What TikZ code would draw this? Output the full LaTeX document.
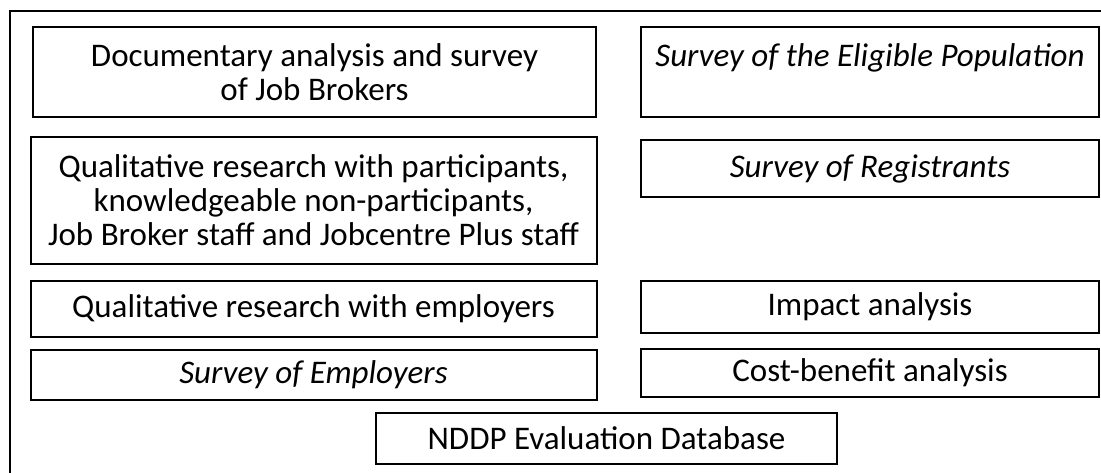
\documentclass[tikz,border=0pt]{standalone}
\usepackage{fontspec}
\setmainfont{Carlito}
\usetikzlibrary{positioning}

\begin{document}
\begin{tikzpicture}[x=0.5pt, y=-0.5pt,
            box/.style={draw, line width=1pt, rectangle, inner sep=0pt, align=center, font=\fontsize{16.5}{17}\selectfont},
            leftbox/.style={box, minimum width=283pt},
            rightbox/.style={box, minimum width=229pt}]

            \useasboundingbox (0,0) rectangle (1101,472);
            \clip (0,0) rectangle (1101,472);

            % outer frame, cut off at right and bottom
            \draw[line width=1pt] (1120,11) -- (10,11) -- (10,490);

            % left column
            \node[leftbox, minimum width=281.5pt, minimum height=45pt] (docs) at (314.5,72) {Documentary analysis and survey\\of Job Brokers};
            \node[leftbox, minimum height=63.5pt] (qualpart) at (313.5,200.5) {Qualitative research with participants,\\knowledgeable non-participants,\\Job Broker staff and Jobcentre Plus staff};
            \node[leftbox, minimum height=28pt] (qualemp) at (313.5,309) {Qualitative research with employers};
            \node[leftbox, minimum height=25pt] (survemp) at (313.5,375) {\itshape Survey of Employers};

            % right column
            \node[rightbox, minimum height=45pt] (survelig) at (870,72) {\itshape Survey of the Eligible Population\\ \mbox{}};
            \node[rightbox, minimum height=28.5pt] (survreg) at (870,168.5) {\itshape Survey of Registrants};
            \node[rightbox, minimum height=26pt] (impact) at (870,307) {Impact analysis};
            \node[rightbox, minimum height=24pt] (costben) at (870,373) {Cost-benefit analysis};

            % database
            \node[box, minimum width=230.5pt, minimum height=25.5pt] (db) at (606.5,438.5) {NDDP Evaluation Database};
        \end{tikzpicture}
\end{document}
